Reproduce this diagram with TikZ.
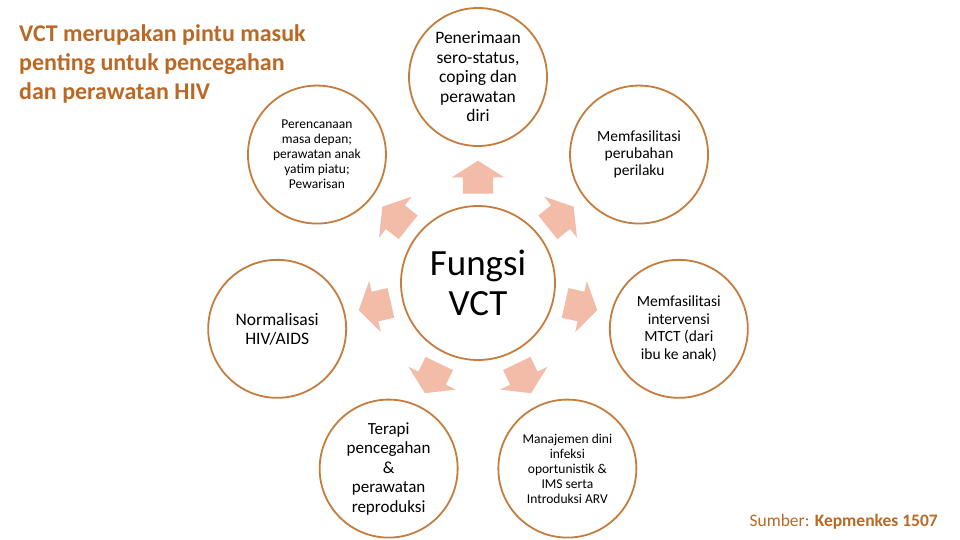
\documentclass[tikz,border=0pt]{standalone}
\usepackage{fontspec}
\setmainfont{Carlito}
\usetikzlibrary{shapes.arrows,calc}
\definecolor{ringbrown}{RGB}{196,125,62}
\definecolor{arrowpink}{RGB}{242,188,168}
\definecolor{titlebrown}{RGB}{186,104,36}

\begin{document}
\begin{tikzpicture}[x=1pt,y=1pt]
    % `ring' is used for all the circles.
    % `pointer' is used for the pink arrows round the centre.
    \tikzstyle{ring} = [draw=ringbrown,line width=1.8pt,circle,fill=white,minimum size=138pt,inner sep=0pt,align=center]
    \tikzstyle{pointer} = [single arrow,fill=arrowpink,draw=none,inner xsep=0pt,inner ysep=15pt,minimum height=33pt,single arrow head extend=11pt,single arrow tip angle=115]
    \useasboundingbox (0,0) rectangle (960,540);
    %
    \node[ring,minimum size=154pt,font=\fontsize{37}{40}\selectfont] (fungsi) at (478,257) {Fungsi\\VCT};
    % Outer circles and arrows, clockwise from the top.
    \foreach \i/\ang/\fs/\bs/\txt in {
      1/90/17.5/19.5/{Penerimaan\\sero-status,\\coping dan\\perawatan\\diri},
      2/38.57/15.5/17/{Memfasilitasi\\perubahan\\perilaku},
      3/-12.86/15.5/17.5/{Memfasilitasi\\intervensi\\MTCT (dari\\ibu ke anak)},
      4/-64.29/13.5/15/{Manajemen dini\\infeksi\\oportunistik \&\\IMS serta\\Introduksi ARV},
      5/-115.71/17/19.5/{Terapi\\pencegahan\\\&\\perawatan\\reproduksi},
      6/-167.14/17.5/19/{Normalisasi\\HIV/AIDS},
      7/141.43/13.5/15/{Perencanaan\\masa depan;\\perawatan anak\\yatim piatu;\\Pewarisan}} {
      \node[ring,font=\fontsize{\fs}{\bs}\selectfont] (f\i) at ($(fungsi)+(\ang:206)$) {\txt};
      \node[pointer,rotate=\ang] (a\i) at ($(fungsi)+(\ang:101)$) {};
    }
    %
    \node[anchor=north west,inner sep=0pt,align=left,text=titlebrown,font=\bfseries\fontsize{24}{29}\selectfont] (title) at (19,516) {VCT merupakan pintu masuk\\penting untuk pencegahan\\dan perawatan HIV};
    \node[anchor=base east,inner sep=0pt,text=titlebrown,font=\fontsize{17.5}{20}\selectfont] (sumber) at (938,13) {Sumber: \textbf{Kepmenkes 1507}};
\end{tikzpicture}
\end{document}
